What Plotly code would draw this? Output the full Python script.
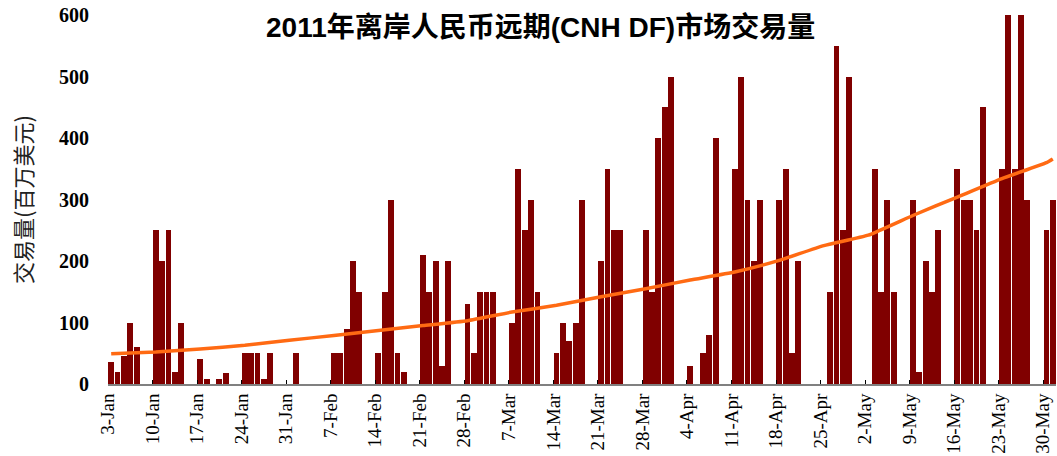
import plotly.graph_objects as go
import pandas as pd

# Business days 3-Jan to 31-May 2011
dates = pd.bdate_range("2011-01-03", "2011-05-31").strftime("%Y-%m-%d").tolist()

volume = [
    35, 20, 45, 100, 60,      # 3-7 Jan
    250, 200, 250, 20, 100,   # 10-14 Jan
    40, 8, 0, 8, 18,          # 17-21 Jan
    50, 50, 50, 8, 50,        # 24-28 Jan
    0, 50, 0, 0, 0,           # 31 Jan-4 Feb
    50, 50, 90, 200, 150,     # 7-11 Feb
    50, 150, 300, 50, 20,     # 14-18 Feb
    210, 150, 200, 30, 200,   # 21-25 Feb
    130, 50, 150, 150, 150,   # 28 Feb-4 Mar
    100, 350, 250, 300, 150,  # 7-11 Mar
    50, 100, 70, 100, 300,    # 14-18 Mar
    200, 350, 250, 250, 0,    # 21-25 Mar
    250, 150, 400, 450, 500,  # 28 Mar-1 Apr
    30, 0, 50, 80, 400,       # 4-8 Apr
    350, 500, 300, 200, 300,  # 11-15 Apr
    300, 350, 50, 200, 0,     # 18-22 Apr
    0, 150, 550, 250, 500,    # 25-29 Apr
    0, 350, 150, 300, 150,    # 2-6 May
    300, 20, 200, 150, 250,   # 9-13 May
    350, 300, 300, 250, 450,  # 16-20 May
    350, 600, 350, 600, 300,  # 23-27 May
    250, 300,                 # 30-31 May
]

trend_dates = ["2011-01-03", "2011-01-10", "2011-01-17", "2011-01-24", "2011-01-31",
               "2011-02-07", "2011-02-14", "2011-02-21", "2011-02-28", "2011-03-07",
               "2011-03-14", "2011-03-21", "2011-03-28", "2011-04-04", "2011-04-11",
               "2011-04-18", "2011-04-25", "2011-05-02", "2011-05-09", "2011-05-16",
               "2011-05-23", "2011-05-30", "2011-05-31"]
trend_values = [49, 52, 57, 63, 71, 79, 87, 95, 103, 117, 128, 142, 155, 169, 182,
                201, 225, 242, 274, 304, 334, 360, 366]

tick_dates = trend_dates[:-1]
tick_text = ["3-Jan", "10-Jan", "17-Jan", "24-Jan", "31-Jan", "7-Feb", "14-Feb",
             "21-Feb", "28-Feb", "7-Mar", "14-Mar", "21-Mar", "28-Mar", "4-Apr",
             "11-Apr", "18-Apr", "25-Apr", "2-May", "9-May", "16-May", "23-May", "30-May"]

y_ticks = [0, 100, 200, 300, 400, 500, 600]

DAY = 86400000

fig = go.Figure()
fig.add_trace(go.Bar(
    x=dates, y=volume,
    xperiod=DAY, xperiodalignment="middle",
    width=0.92 * DAY,
    marker=dict(color="#800000", line=dict(width=0)),
    showlegend=False,
))
fig.add_trace(go.Scatter(
    x=trend_dates, y=trend_values,
    xperiod=DAY, xperiodalignment="middle",
    mode="lines",
    line=dict(color="#FF6A13", width=3.5, shape="spline", smoothing=0.4),
    showlegend=False,
))

fig.update_layout(
    width=1057, height=456,
    margin=dict(l=108, r=1, t=15, b=72),
    paper_bgcolor="white", plot_bgcolor="white",
    bargap=0,
    hovermode=False,
    xaxis=dict(
        type="date",
        range=["2011-01-03", "2011-06-01"],
        tickvals=tick_dates, ticktext=tick_text,
        tickangle=-90,
        tickfont=dict(family="Liberation Serif", size=19, color="#000"),
        showline=True, linecolor="#808080", linewidth=2,
        ticks="inside", ticklen=4, tickcolor="#000", tickwidth=1,
        showgrid=False, zeroline=False,
        ticklabelstandoff=0,
    ),
    yaxis=dict(
        range=[0, 600],
        tickvals=y_ticks,
        tickfont=dict(family="Liberation Serif", size=20, color="#000", weight="bold"),
        showline=False, showgrid=False, zeroline=False,
        ticks="", ticklabelstandoff=18, ticklabeloverflow="allow",
    ),
    annotations=[
        dict(text="2011年离岸人民币远期(CNH DF)市场交易量",
             xref="paper", yref="paper", x=0.4557, y=0.965,
             xanchor="center", yanchor="middle", showarrow=False,
             font=dict(family="Liberation Sans, Noto Sans CJK SC", size=28,
                       color="#000", weight="bold")),
        dict(text="交易量(百万美元)",
             xref="paper", yref="paper", x=-0.0907, y=0.4986,
             xanchor="center", yanchor="middle", showarrow=False, textangle=-90,
             font=dict(family="Noto Sans CJK SC", size=22, color="#222")),
    ],
)

fig.write_html(
    "out.html",
    config={"displayModeBar": False, "staticPlot": True},
    post_script="document.body.style.margin='0';document.body.style.overflow='hidden';",
)
